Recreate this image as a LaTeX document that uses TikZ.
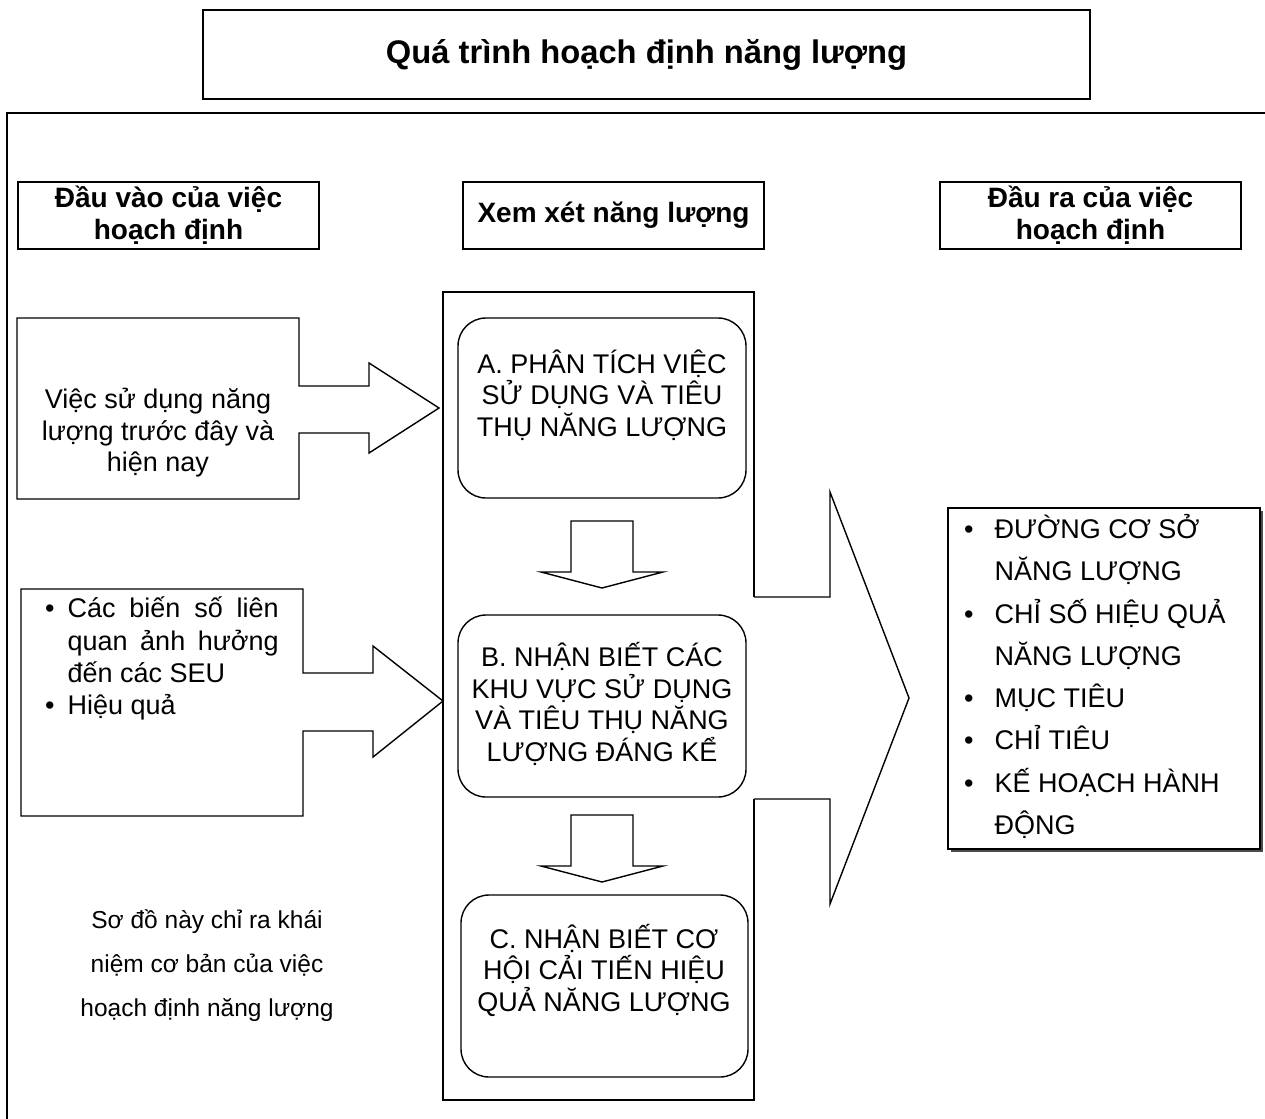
\documentclass[tikz,border=0pt]{standalone}
\usepackage{fontspec}
\setmainfont{Liberation Sans}
\begin{document}
\begin{tikzpicture}[x=1pt,y=-1pt,line join=miter]
\tikzset{
  ln/.style={line width=1.4pt},
  hdr/.style={draw, line width=1.4pt, minimum width=301pt, minimum height=67pt, inner sep=0pt,
    font=\fontsize{28}{32}\selectfont\bfseries, align=center},
  rbox/.style={draw, line width=1.4pt, rounded corners=28pt, fill=white, inner sep=0pt},
  body/.style={font=\fontsize{27}{31.5}\selectfont, align=center, inner sep=0pt},
  note/.style={font=\fontsize{24.5}{44}\selectfont, align=center, inner sep=0pt},
}
\useasboundingbox (0,0) rectangle (1265,1118);
\fill[white] (0,0) rectangle (1265,1118);

% title
\node[draw, line width=1.4pt, minimum width=887pt, minimum height=89pt, inner sep=0pt,
  font=\fontsize{32.7}{36}\selectfont\bfseries] (title) at (646.5,54.5) {Quá trình hoạch định năng lượng};

% outer frame
\draw[line width=2pt] (1275,113) -- (7,113) -- (7,1130);

% headers
\node[hdr] (hin)  at (168.5,215.5) {Đầu vào của việc\\hoạch định};
\node[hdr] (hmid) at (613.5,215.5) {Xem xét năng lượng};
\node[hdr] (hout) at (1090.5,215.5) {Đầu ra của việc\\hoạch định};

% middle container (right edge interrupted by the big arrow)
\coordinate (cTR) at (754,292);
\coordinate (cBR) at (754,1100);
\draw[ln] (754,597) -- (cTR) -- (443,292) -- (443,1100) -- (cBR) -- (754,799);

% big output arrow
\draw[ln, fill=white] (754,597) -- (830,597) -- (830,492) -- (909,698) -- (830,904) -- (830,799) -- (754,799);

% input 1 (box merged with arrow)
\draw[ln, fill=white] (17,318) -- (299,318) -- (299,386) -- (369,386) -- (369,363) -- (439,408)
  -- (369,453) -- (369,433) -- (299,433) -- (299,499) -- (17,499) -- cycle;
\node[body] (in1) at (158,433) {Việc sử dụng năng\\lượng trước đây và\\hiện nay};

% input 2
\draw[ln, fill=white] (21,589) -- (303,589) -- (303,673) -- (373,673) -- (373,646) -- (443,701)
  -- (373,757) -- (373,731) -- (303,731) -- (303,816) -- (21,816) -- cycle;
\node[anchor=north west, inner sep=0pt, font=\fontsize{27}{32.3}\selectfont] (in2) at (45,595)
  {\begin{tabular}{@{}l@{\hspace{13pt}}l@{}}
   • & \makebox[211pt][s]{Các biến số liên}\\
     & \makebox[211pt][s]{quan ảnh hưởng}\\
     & đến các SEU\\
   • & Hiệu quả
   \end{tabular}};

% note
\node[note] (note) at (207,966) {Sơ đồ này chỉ ra khái\\niệm cơ bản của việc\\hoạch định năng lượng};

% rounded boxes
\node[rbox, minimum width=288pt, minimum height=180pt] (A) at (602,408) {};
\node[body] (Atxt) at (602,395) {A. PHÂN TÍCH VIỆC\\SỬ DỤNG VÀ TIÊU\\THỤ NĂNG LƯỢNG};
\node[rbox, minimum width=288pt, minimum height=182pt] (B) at (602,706) {};
\node[body] (Btxt) at (602,704) {B. NHẬN BIẾT CÁC\\KHU VỰC SỬ DỤNG\\VÀ TIÊU THỤ NĂNG\\LƯỢNG ĐÁNG KỂ};
\node[rbox, minimum width=287pt, minimum height=182pt] (C) at (604.5,986) {};
\node[body] (Ctxt) at (604,970) {C. NHẬN BIẾT CƠ\\HỘI CẢI TIẾN HIỆU\\QUẢ NĂNG LƯỢNG};

% down arrows
\draw[ln, fill=white] (571,521) -- (633,521) -- (633,572) -- (663,572) -- (602,588) -- (541,572) -- (571,572) -- cycle;
\draw[ln, fill=white] (571,815) -- (633,815) -- (633,866) -- (663,866) -- (602,882) -- (541,866) -- (571,866) -- cycle;

% output box with shadow
\draw[line width=1.6pt, black!70] (1262,511) -- (1262,851) -- (951,851);
\node[draw, line width=1.5pt, fill=white, minimum width=312pt, minimum height=341pt, inner sep=0pt] (outbox) at (1104,678.5) {};
\node[anchor=west, inner sep=0pt, font=\fontsize{27}{42.3}\selectfont] (outlist) at (964,678)
  {\begin{tabular}{@{}l@{\hspace{21pt}}l@{}}
   • & ĐƯỜNG CƠ SỞ\\
     & NĂNG LƯỢNG\\
   • & CHỈ SỐ HIỆU QUẢ\\
     & NĂNG LƯỢNG\\
   • & MỤC TIÊU\\
   • & CHỈ TIÊU\\
   • & KẾ HOẠCH HÀNH\\
     & ĐỘNG
   \end{tabular}};
\end{tikzpicture}
\end{document}
